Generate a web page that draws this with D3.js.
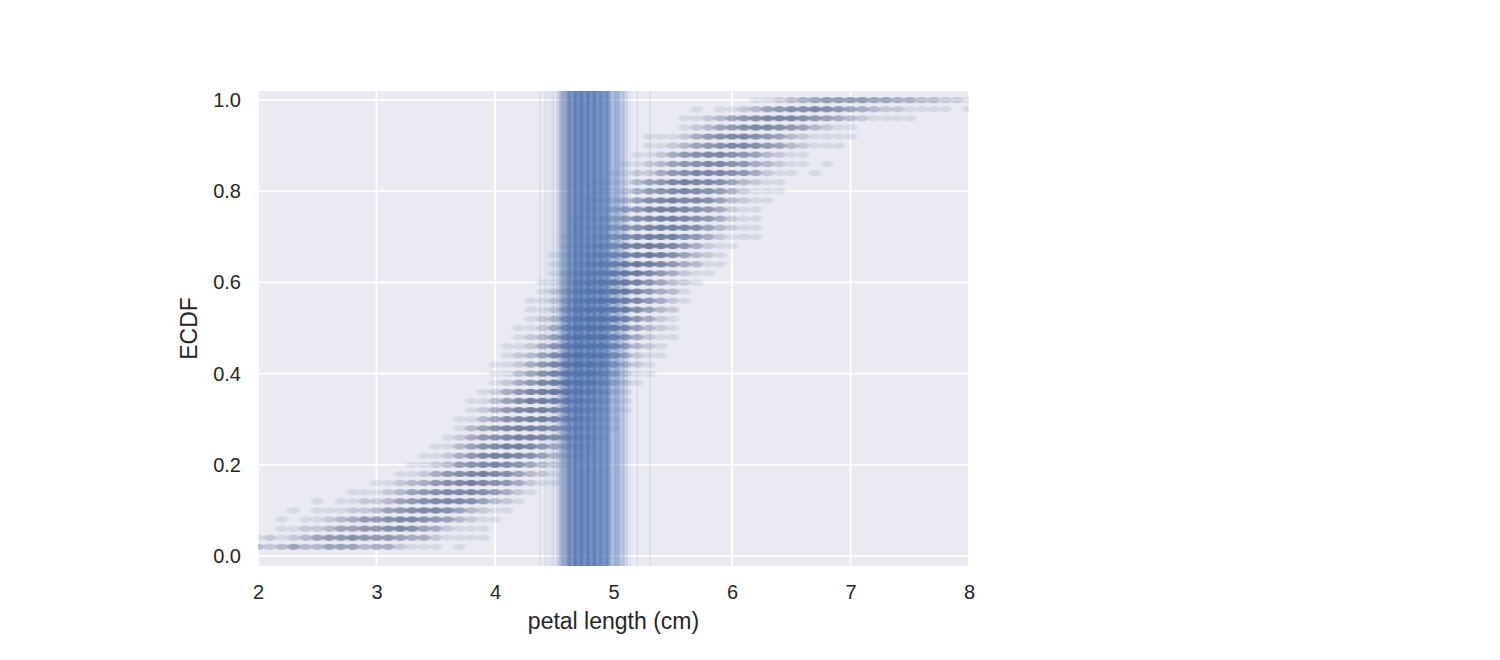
<!DOCTYPE html>
<html><head><meta charset="utf-8">
<script src="https://cdn.jsdelivr.net/npm/d3@7"></script>
<style>body{margin:0;background:#fff}svg{display:block}</style>
</head><body>
<svg id="chart" width="1500" height="660"></svg>
<script>
// ---- data ----
const xTicks = [2, 3, 4, 5, 6, 7, 8];
const yTicks = [0.0, 0.2, 0.4, 0.6, 0.8, 1.0];
const xLabel = "petal length (cm)";
const yLabel = "ECDF";

// ECDF rows: level k/50; first petal length of each row and how many bootstrap
// replicates sit at each 0.1 cm step from there
const rowStart = [2.0,2.0,2.2,2.2,2.3,2.5,2.8,3.0,3.2,3.3,
                  3.4,3.5,3.6,3.7,3.7,3.8,3.8,3.9,4.0,4.0,
                  4.0,4.1,4.1,4.2,4.2,4.3,4.3,4.3,4.4,4.4,
                  4.5,4.5,4.5,4.6,4.6,4.7,4.7,4.8,4.8,4.9,
                  4.9,5.0,5.1,5.2,5.3,5.3,5.6,5.6,5.7,6.2];
const rowCounts = [
  [3,2,3,5,3,3,5,5,5,3,4,4,2,1,1,1,0,1],
  [1,2,1,2,3,5,6,6,7,6,6,6,5,4,4,2,1,1,1,1],
  [1,1,2,2,3,5,5,6,6,7,8,7,5,4,2,1,1,1],
  [1,0,1,1,2,3,4,6,6,7,8,8,7,6,5,3,2,1,1],
  [1,0,1,1,1,2,2,3,5,6,7,8,8,7,5,3,2,1,1],
  [1,0,1,1,2,2,3,5,6,7,8,8,8,7,5,3,2,1],
  [1,1,1,2,3,5,6,7,8,8,8,7,6,4,2,1],
  [1,1,2,3,4,6,7,8,9,8,7,6,4,2,1,1],
  [1,1,2,4,6,7,8,9,8,7,5,3,2,1],
  [1,1,2,3,6,7,8,9,8,7,5,3,2,1],
  [1,1,2,4,6,8,9,9,8,7,5,3,2,1],
  [1,1,3,5,7,8,9,9,8,6,4,3,2,1],
  [1,2,4,6,7,8,9,9,8,7,5,3,2,1],
  [1,3,5,7,8,9,9,8,7,5,3,2,1,1],
  [1,1,3,5,7,8,9,9,8,6,4,2,1,1],
  [1,2,4,6,8,9,9,8,7,5,3,2,1,1],
  [1,1,3,5,7,9,9,9,8,6,4,2,1,1],
  [1,2,4,6,8,9,10,9,7,5,3,2,1],
  [1,2,4,6,8,9,10,9,7,5,3,2,1],
  [1,1,3,5,7,9,10,9,8,6,4,2,1,1],
  [1,1,2,4,6,8,9,10,9,7,5,3,2,1],
  [1,2,3,5,7,9,10,9,8,6,4,2,1,1],
  [1,1,2,4,6,8,10,10,9,7,5,3,2,1],
  [1,2,3,5,7,9,10,10,8,6,4,2,1,1],
  [1,1,2,4,6,8,10,10,9,7,5,3,2,1],
  [1,2,3,5,7,9,10,10,8,6,4,2,1],
  [1,1,2,4,6,8,10,10,9,7,5,3,2],
  [1,1,2,3,5,7,9,10,9,8,6,4,2,1],
  [1,2,3,5,7,9,10,10,8,6,4,3,1],
  [1,1,2,4,6,8,10,10,9,7,5,3,2,1],
  [1,2,3,5,7,9,10,10,8,6,4,2,1,1],
  [1,1,2,4,6,8,9,10,9,8,6,4,3,1,1],
  [1,1,1,3,5,7,8,9,10,9,7,5,3,2,1],
  [1,1,2,4,6,8,9,10,9,8,6,4,2,1,1],
  [1,1,1,3,5,7,8,9,9,9,7,6,4,2,1,1,1],
  [1,1,2,4,6,7,8,9,9,8,7,5,3,2,1,1],
  [1,1,2,3,5,7,8,9,9,8,7,6,4,2,1,1],
  [1,1,3,5,6,8,9,9,8,7,6,4,2,1,1],
  [1,1,2,3,5,7,8,9,8,8,7,5,3,2,1,1],
  [1,1,2,4,6,7,8,9,8,7,6,4,2,1,1,1],
  [1,1,1,3,5,6,8,9,8,8,7,5,3,2,1,1],
  [1,1,2,2,4,6,7,8,8,8,7,6,4,2,1,1,0,1],
  [1,1,2,3,5,6,7,8,8,7,6,4,3,2,1,1,0,1],
  [1,1,2,4,6,7,8,8,7,6,5,3,2,1,1],
  [1,1,2,3,5,6,7,8,8,7,6,5,3,2,1,1,1],
  [1,1,1,2,4,6,7,8,8,7,6,5,3,2,1,1,1,1],
  [1,2,3,5,6,7,8,8,7,6,5,3,2,1,1],
  [1,1,2,3,5,6,7,8,8,8,7,6,5,4,3,2,1,1,1,1],
  [1,0,1,1,2,3,5,6,7,7,8,7,6,5,4,3,2,2,1,1,1,1,0,1],
  [1,1,2,3,4,5,6,6,6,6,5,5,4,4,3,3,2,2,1]
];

// bootstrap means (vertical lines): count of replicates per 0.01 cm from meanStart
const meanStart = 4.35;
const meanCounts = [
  0,0,0,1,0,0,0,1,0,1,
  0,1,0,1,1,1,0,2,1,3,
  4,5,6,7,6,9,10,12,14,15,
  13,14,16,18,19,20,19,18,17,18,
  16,15,16,17,18,17,16,15,16,17,
  16,15,14,13,14,12,13,14,12,11,
  13,10,8,5,3,5,6,5,6,5,
  4,3,2,4,3,1,2,1,0,1,
  0,0,0,0,0,1,0,0,0,0,
  0,0,0,0,0,0,1
];

// ---- drawing ----
const plot = {left: 258, right: 969, top: 91, bottom: 566};
const svg = d3.select("#chart");
const font = "'Liberation Sans', Arial, Helvetica, sans-serif";
const x = d3.scaleLinear().domain([2, 8]).range([plot.left, plot.right]);
const y = d3.scaleLinear().domain([-0.022, 1.02]).range([plot.bottom, plot.top]);
const alphaOf = (c, a) => 1 - Math.pow(1 - a, c);

svg.append("rect").attr("width", 1500).attr("height", 660).attr("fill", "#fff");
svg.append("rect")
  .attr("x", plot.left).attr("y", plot.top)
  .attr("width", plot.right - plot.left).attr("height", plot.bottom - plot.top)
  .attr("fill", "#EAEAF2");

const defs = svg.append("defs");
defs.append("clipPath").attr("id", "clip").append("rect")
  .attr("x", plot.left).attr("y", plot.top)
  .attr("width", plot.right - plot.left).attr("height", plot.bottom - plot.top);
defs.append("filter").attr("id", "soft")
  .attr("x", "-5%").attr("y", "-5%").attr("width", "110%").attr("height", "110%")
  .append("feGaussianBlur").attr("stdDeviation", "1.4 0.7");

// grid
const grid = svg.append("g").attr("stroke", "#fff").attr("stroke-width", 1.8);
grid.selectAll("line.gx").data(xTicks).join("line").attr("class", "gx")
  .attr("x1", d => x(d)).attr("x2", d => x(d)).attr("y1", plot.top).attr("y2", plot.bottom);
grid.selectAll("line.gy").data(yTicks).join("line").attr("class", "gy")
  .attr("y1", d => y(d)).attr("y2", d => y(d)).attr("x1", plot.left).attr("x2", plot.right);

// ECDF dots
const dots = [];
rowCounts.forEach((counts, i) => {
  const level = (i + 1) / rowCounts.length;
  counts.forEach((c, j) => {
    if (c > 0) dots.push({v: Math.round((rowStart[i] + j * 0.1) * 100) / 100, level, c});
  });
});
const marks = svg.append("g").attr("clip-path", "url(#clip)");
marks.append("g").attr("filter", "url(#soft)")
  .selectAll("ellipse").data(dots).join("ellipse")
  .attr("cx", d => x(d.v)).attr("cy", d => y(d.level))
  .attr("rx", 6.2).attr("ry", 3.2)
  .attr("fill", "#3a4c78")
  .attr("fill-opacity", d => alphaOf(d.c, 0.115));

// bootstrap mean lines
const lines = [];
meanCounts.forEach((c, j) => { if (c > 0) lines.push({v: meanStart + j * 0.01, c}); });
marks.append("g").selectAll("line").data(lines).join("line")
  .attr("x1", d => x(d.v)).attr("x2", d => x(d.v))
  .attr("y1", plot.top).attr("y2", plot.bottom)
  .attr("stroke", "#4C72B0").attr("stroke-width", 1.3)
  .attr("stroke-opacity", d => alphaOf(d.c, 0.12));

// axes
const xAxis = d3.axisBottom(x).tickValues(xTicks).tickFormat(d3.format("d")).tickSize(0).tickPadding(19);
const gx = svg.append("g").attr("transform", `translate(0,${plot.bottom})`).call(xAxis);
const yAxis = d3.axisLeft(y).tickValues(yTicks).tickFormat(d3.format(".1f")).tickSize(0).tickPadding(17);
const gy = svg.append("g").attr("transform", `translate(${plot.left},0)`).call(yAxis);
[gx, gy].forEach(g => {
  g.select(".domain").remove();
  g.selectAll("text").attr("font-family", font).attr("font-size", 20).attr("fill", "#262626");
});

svg.append("text")
  .attr("x", (plot.left + plot.right) / 2).attr("y", 629)
  .attr("text-anchor", "middle")
  .attr("font-family", font).attr("font-size", 23).attr("fill", "#262626")
  .text(xLabel);
svg.append("text")
  .attr("transform", `translate(197,${(plot.top + plot.bottom) / 2}) rotate(-90)`)
  .attr("text-anchor", "middle")
  .attr("font-family", font).attr("font-size", 23).attr("fill", "#262626")
  .text(yLabel);
</script>
</body></html>
